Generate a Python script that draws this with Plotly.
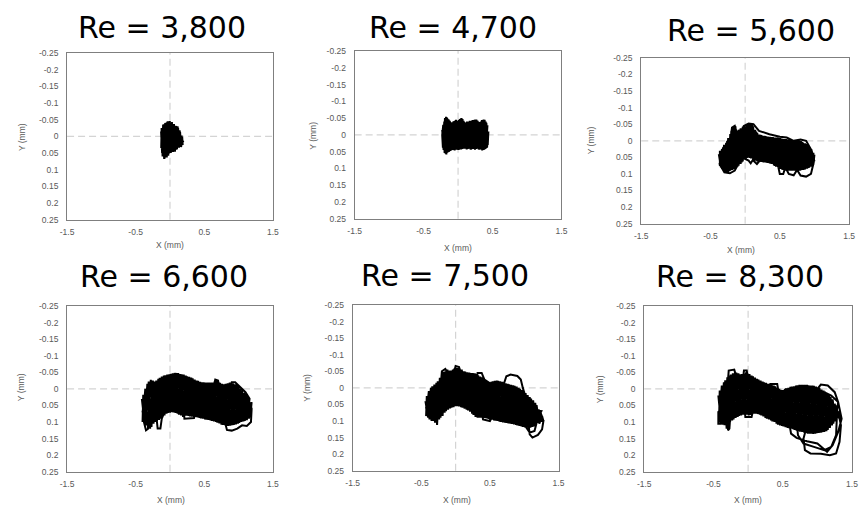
import plotly.graph_objects as go

W, H = 859, 512

# Panel labels (Reynolds number) and tick labels
TITLES = ["Re = 3,800", "Re = 4,700", "Re = 5,600", "Re = 6,600", "Re = 7,500", "Re = 8,300"]
X_TICKS = [-1.5, -0.5, 0.5, 1.5]
X_TICK_TEXT = ["-1.5", "-0.5", "0.5", "1.5"]
Y_TICKS = [-0.25, -0.2, -0.15, -0.1, -0.05, 0, 0.05, 0.1, 0.15, 0.2, 0.25]
Y_TICK_TEXT = ["-0.25", "-0.2", "-0.15", "-0.1", "-0.05", "0", "0.05", "0.1", "0.15", "0.2", "0.25"]

# Cylinder centre trajectories, X and Y displacement in mm
X_3800 = [-0.13, -0.115, -0.1, -0.085, -0.07, -0.055, -0.04, -0.025, -0.01, 0.005, 0.02, 0.035, 0.05, 0.065,
          0.08, 0.095, 0.11, 0.125, 0.14, 0.155, 0.17, 0.185,
          0.178, 0.162, 0.147, 0.132, 0.118, 0.102, 0.087, 0.072, 0.058, 0.043, 0.028, 0.012, -0.003, -0.018,
          -0.032, -0.047, -0.062, -0.078, -0.093, -0.108, -0.122,
          -0.128, -0.09, -0.05, 0.0, 0.06, 0.12, 0.19, 0.15, 0.08, 0.02, -0.06, -0.12]
Y_3800 = [-0.015, 0.05, -0.035, 0.068, -0.04, 0.06, -0.044, 0.058, -0.045, 0.048, -0.04, 0.046, -0.036, 0.045,
          -0.032, 0.04, -0.03, 0.034, -0.018, 0.03, -0.002, 0.026,
          0.002, 0.032, -0.014, 0.034, -0.026, 0.038, -0.031, 0.046, -0.037, 0.047, -0.043, 0.05, -0.046, 0.052,
          -0.045, 0.063, -0.041, 0.066, -0.036, 0.06, -0.025,
          0.035, 0.0, 0.03, -0.01, 0.02, 0.0, 0.015, 0.03, 0.0, 0.03, 0.01, 0.02]

X_4700 = [-0.23, -0.21, -0.19, -0.17, -0.15, -0.13, -0.11, -0.09, -0.07, -0.05, -0.03, -0.01, 0.01, 0.03, 0.05,
          0.07, 0.09, 0.11, 0.13, 0.15, 0.17, 0.19, 0.21, 0.23, 0.25, 0.27, 0.29, 0.31, 0.33, 0.35, 0.37, 0.39,
          0.41, 0.43, 0.44,
          0.42, 0.4, 0.38, 0.36, 0.34, 0.32, 0.3, 0.28, 0.26, 0.24, 0.22, 0.2, 0.18, 0.16, 0.14, 0.12, 0.1, 0.08,
          0.06, 0.04, 0.02, 0.0, -0.02, -0.04, -0.06, -0.08, -0.1, -0.12, -0.14, -0.16, -0.18, -0.2, -0.22, -0.23,
          -0.215, -0.195, -0.175, -0.155, -0.135, -0.115, -0.095, -0.075, -0.055, -0.035, -0.015, 0.005, 0.025,
          0.045, 0.065, 0.085, 0.105, 0.125, 0.145, 0.165, 0.185, 0.205, 0.225, 0.245, 0.265, 0.285, 0.305,
          0.325, 0.345, 0.365, 0.385, 0.405, 0.425,
          0.35, 0.2, 0.05, -0.1, -0.2, -0.1, 0.05, 0.2, 0.35, 0.42]
Y_4700 = [-0.015, 0.045, -0.05, 0.058, -0.048, 0.05, -0.038, 0.045, -0.04, 0.046, -0.045, 0.044, -0.044, 0.042,
          -0.05, 0.04, -0.038, 0.04, -0.04, 0.04, -0.042, 0.044, -0.044, 0.042, -0.046, 0.04, -0.04, 0.044,
          -0.04, 0.046, -0.046, 0.042, -0.036, 0.03, -0.01,
          0.038, -0.04, 0.044, -0.044, 0.043, -0.038, 0.043, -0.043, 0.042, -0.045, 0.041, -0.042, 0.043, -0.04,
          0.042, -0.037, 0.041, -0.042, 0.042, -0.049, 0.044, -0.042, 0.043, -0.043, 0.045, -0.037, 0.046,
          -0.042, 0.051, -0.052, 0.056, -0.04, 0.038, 0.0,
          -0.03, 0.054, -0.054, 0.053, -0.046, 0.048, -0.036, 0.045, -0.041, 0.044, -0.042, 0.045, -0.047,
          0.043, -0.047, 0.041, -0.036, 0.043, -0.039, 0.041, -0.041, 0.042, -0.043, 0.044, -0.046, 0.041,
          -0.037, 0.042, -0.044, 0.045, -0.045, 0.04, -0.025,
          -0.02, -0.015, -0.025, -0.02, 0.0, 0.02, 0.025, 0.02, 0.025, 0.01]

X_5600 = [-0.38, -0.35, -0.32, -0.29, -0.26, -0.23, -0.2, -0.17, -0.14, -0.11, -0.08, -0.05, -0.02, 0.01, 0.04,
          0.07, 0.1, 0.13, 0.16, 0.19, 0.22, 0.25, 0.28, 0.31, 0.34, 0.37, 0.4, 0.43, 0.46, 0.49, 0.52, 0.55,
          0.58, 0.61, 0.64, 0.67, 0.7, 0.73, 0.76, 0.79, 0.82, 0.85, 0.88, 0.91, 0.94, 0.97, 1.0,
          0.985, 0.955, 0.925, 0.895, 0.865, 0.835, 0.805, 0.775, 0.745, 0.715, 0.685, 0.655, 0.625, 0.595,
          0.565, 0.535, 0.505, 0.475, 0.445, 0.415, 0.385, 0.355, 0.325, 0.295, 0.265, 0.235, 0.205, 0.175,
          0.145, 0.115, 0.085, 0.055, 0.025, -0.005, -0.035, -0.065, -0.095, -0.125, -0.155, -0.185, -0.215,
          -0.245, -0.275, -0.305, -0.335, -0.365,
          -0.365, -0.335, -0.305, -0.275, -0.245, -0.215, -0.185, -0.155, -0.125, -0.095, -0.065, -0.035,
          -0.005, 0.025, 0.055, 0.085, 0.115, 0.145, 0.175, 0.205, 0.235, 0.265, 0.295, 0.325, 0.355, 0.385,
          0.415, 0.445, 0.475, 0.505, 0.535, 0.565, 0.595, 0.625, 0.655, 0.685, 0.715, 0.745, 0.775, 0.805,
          0.835, 0.865, 0.895, 0.925, 0.955, 0.985,
          0.99, 0.95, 0.88, 0.8, 0.75, 0.7, 0.63, 0.58, 0.55, 0.5, 0.47, 0.4, 0.25, 0.17, 0.11, 0.08, 0.05,
          -0.05, -0.15, -0.22, -0.3, -0.37, -0.3, -0.22, -0.19, -0.15, -0.1, -0.02, 0.05, 0.12, 0.2, 0.35, 0.5,
          0.6, 0.7, 0.8, 0.88, 0.96,
          1.0, 0.9, 0.8, 0.7, 0.6, 0.5, 0.4, 0.3, 0.2, 0.1, 0.0, -0.1, -0.2, -0.3, -0.37,
          -0.3, -0.2, -0.1, 0.0, 0.1, 0.2, 0.3, 0.4, 0.5, 0.6, 0.7, 0.8, 0.9, 0.98]
Y_5600 = [0.04, 0.08, 0.02, 0.092, 0.0, 0.092, -0.03, 0.086, -0.044, 0.078, -0.034, 0.065, -0.043, 0.055, -0.049,
          0.052, -0.048, 0.058, -0.028, 0.063, -0.018, 0.064, -0.015, 0.066, -0.012, 0.069, -0.011, 0.076,
          -0.01, 0.083, -0.007, 0.088, -0.005, 0.09, -0.004, 0.09, -0.003, 0.09, -0.001, 0.09, 0.003, 0.087,
          0.01, 0.082, 0.022, 0.075, 0.042,
          0.072, 0.025, 0.081, 0.012, 0.086, 0.005, 0.089, 0.0, 0.09, -0.002, 0.09, -0.004, 0.09, -0.005, 0.089,
          -0.006, 0.085, -0.009, 0.078, -0.01, 0.07, -0.012, 0.067, -0.014, 0.065, -0.017, 0.064, -0.024, 0.06,
          -0.044, 0.053, -0.05, 0.052, -0.044, 0.062, -0.038, 0.075, -0.03, 0.085, -0.04, 0.09, -0.008, 0.094,
          0.012, 0.085, 0.03,
          0.076, 0.025, 0.09, 0.006, 0.094, -0.02, 0.088, -0.042, 0.082, -0.033, 0.07, -0.042, 0.056, -0.047,
          0.051, -0.049, 0.056, -0.033, 0.062, -0.019, 0.064, -0.015, 0.065, -0.013, 0.068, -0.011, 0.074,
          -0.01, 0.08, -0.008, 0.087, -0.005, 0.09, -0.004, 0.09, -0.003, 0.09, -0.002, 0.09, 0.001, 0.088,
          0.008, 0.084, 0.018, 0.078, 0.036,
          0.065, 0.1, 0.108, 0.105, 0.088, 0.104, 0.1, 0.08, 0.1, 0.1, 0.07, 0.06, 0.05, 0.07, 0.058, 0.068,
          0.06, 0.05, 0.09, 0.098, 0.095, 0.07, 0.03, 0.01, -0.04, -0.045, -0.01, -0.045, -0.052, -0.05, -0.03,
          -0.02, -0.012, -0.01, 0.0, -0.004, 0.0, 0.03,
          0.062, 0.054, 0.052, 0.05, 0.05, 0.044, 0.037, 0.032, 0.028, 0.009, 0.012, 0.028, 0.036, 0.056, 0.062,
          0.044, 0.024, 0.016, 0.0, -0.003, 0.016, 0.02, 0.024, 0.032, 0.036, 0.038, 0.039, 0.041, 0.048]

X_6600 = [-0.41, -0.37, -0.33, -0.29, -0.25, -0.21, -0.17, -0.13, -0.09, -0.05, -0.01, 0.03, 0.07, 0.11, 0.15,
          0.19, 0.23, 0.27, 0.31, 0.35, 0.39, 0.43, 0.47, 0.51, 0.55, 0.59, 0.63, 0.67, 0.71, 0.75, 0.79, 0.83,
          0.87, 0.91, 0.95, 0.99, 1.03, 1.07, 1.11, 1.15, 1.19,
          1.17, 1.13, 1.09, 1.05, 1.01, 0.97, 0.93, 0.89, 0.85, 0.81, 0.77, 0.73, 0.69, 0.65, 0.61, 0.57, 0.53,
          0.49, 0.45, 0.41, 0.37, 0.33, 0.29, 0.25, 0.21, 0.17, 0.13, 0.09, 0.05, 0.01, -0.03, -0.07, -0.11,
          -0.15, -0.19, -0.23, -0.27, -0.31, -0.35, -0.39,
          -0.4, -0.36, -0.32, -0.28, -0.24, -0.2, -0.16, -0.12, -0.08, -0.04, 0.0, 0.04, 0.08, 0.12, 0.16, 0.2,
          0.24, 0.28, 0.32, 0.36, 0.4, 0.44, 0.48, 0.52, 0.56, 0.6, 0.64, 0.68, 0.72, 0.76, 0.8, 0.84, 0.88,
          0.92, 0.96, 1.0, 1.04, 1.08, 1.12, 1.16,
          1.1, 0.95, 0.9, 0.85, 0.72, 0.7, 0.66, 0.64, 0.6, 0.44, 0.8, 0.8, 0.83, 0.9, 0.98, 1.05, 1.12, 1.18,
          1.19, 1.14, 0.6, 0.38, 0.35, 0.21, 0.2, 0.0, -0.12, -0.14, -0.18, -0.2, -0.3, -0.32, -0.35, -0.38,
          -0.4, -0.3, -0.2, -0.1, 0.0, 0.1, 0.2, 0.3, 0.4, 0.5, 0.6, 0.7, 0.8, 0.9, 1.0, 1.1, 1.18,
          1.1, 1.0, 0.9, 0.8, 0.7, 0.6, 0.5, 0.4, 0.3, 0.2, 0.1, 0.0, -0.1, -0.2, -0.3, -0.4]
Y_6600 = [0.03, 0.105, -0.015, 0.12, -0.025, 0.1, -0.03, 0.09, -0.04, 0.075, -0.044, 0.07, -0.048, 0.075, -0.045,
          0.085, -0.04, 0.082, -0.034, 0.085, -0.025, 0.088, -0.02, 0.092, -0.019, 0.095, -0.019, 0.1, -0.02,
          0.108, -0.014, 0.112, -0.019, 0.11, -0.014, 0.105, 0.0, 0.098, 0.016, 0.09, 0.04,
          0.085, 0.02, 0.097, 0.005, 0.103, -0.012, 0.109, -0.018, 0.112, -0.015, 0.109, -0.018, 0.102, -0.022,
          0.097, -0.019, 0.093, -0.02, 0.089, -0.024, 0.085, -0.032, 0.083, -0.038, 0.082, -0.044, 0.078,
          -0.048, 0.071, -0.045, 0.073, -0.041, 0.085, -0.033, 0.097, -0.022, 0.115, -0.022, 0.11, 0.018,
          0.1, 0.0, 0.118, -0.027, 0.105, -0.025, 0.094, -0.037, 0.08, -0.043, 0.072, -0.047, 0.073, -0.048,
          0.08, -0.043, 0.081, -0.036, 0.084, -0.028, 0.086, -0.021, 0.09, -0.019, 0.094, -0.019, 0.098,
          -0.024, 0.104, -0.015, 0.11, -0.017, 0.111, -0.016, 0.107, -0.008, 0.1, 0.012, 0.094, 0.03,
          0.01, -0.02, -0.02, 0.02, -0.005, -0.025, -0.028, -0.01, 0.02, 0.05, 0.05, 0.1, 0.124, 0.126, 0.12,
          0.11, 0.112, 0.1, 0.06, 0.03, 0.05, 0.07, 0.088, 0.09, 0.06, 0.03, 0.09, 0.12, 0.12, 0.08, 0.05,
          0.12, 0.125, 0.1,
          0.068, 0.056, 0.041, 0.026, 0.02, 0.019, 0.028, 0.031, 0.037, 0.042, 0.044, 0.048, 0.054, 0.052,
          0.054, 0.061, 0.064,
          0.049, 0.042, 0.04, 0.042, 0.036, 0.032, 0.03, 0.025, 0.019, 0.016, 0.007, 0.008, 0.014, 0.029,
          0.044, 0.056]

X_7500 = [-0.44, -0.4, -0.36, -0.32, -0.28, -0.24, -0.2, -0.16, -0.12, -0.08, -0.04, 0.0, 0.04, 0.08, 0.12,
          0.16, 0.2, 0.24, 0.28, 0.32, 0.36, 0.4, 0.44, 0.48, 0.52, 0.56, 0.6, 0.64, 0.68, 0.72, 0.76, 0.8,
          0.84, 0.88, 0.92, 0.96, 1.0, 1.04, 1.08, 1.12, 1.16, 1.2, 1.24, 1.28,
          1.26, 1.22, 1.18, 1.14, 1.1, 1.06, 1.02, 0.98, 0.94, 0.9, 0.86, 0.82, 0.78, 0.74, 0.7, 0.66, 0.62,
          0.58, 0.54, 0.5, 0.46, 0.42, 0.38, 0.34, 0.3, 0.26, 0.22, 0.18, 0.14, 0.1, 0.06, 0.02, -0.02, -0.06,
          -0.1, -0.14, -0.18, -0.22, -0.26, -0.3, -0.34, -0.38, -0.42,
          -0.43, -0.39, -0.35, -0.31, -0.27, -0.23, -0.19, -0.15, -0.11, -0.07, -0.03, 0.01, 0.05, 0.09, 0.13,
          0.17, 0.21, 0.25, 0.29, 0.33, 0.37, 0.41, 0.45, 0.49, 0.53, 0.57, 0.61, 0.65, 0.69, 0.73, 0.77, 0.81,
          0.85, 0.89, 0.93, 0.97, 1.01, 1.05, 1.09, 1.13, 1.17, 1.21, 1.25,
          1.28, 1.26, 1.2, 1.12, 1.08, 1.05, 1.05, 0.98, 0.95, 0.9, 0.8, 0.74, 0.7, 0.6, 0.42, 0.38, 0.32,
          0.3, 0.4, 0.5, 0.6, 0.9, 1.02, 1.08, 1.15, 1.2, 1.25, 0.3, 0.0, -0.03, 0.0, 0.05, 0.08, -0.1,
          -0.15, -0.2, -0.22, -0.26, -0.27, -0.28, -0.44,
          -0.3, -0.2, -0.1, 0.0, 0.1, 0.2, 0.3, 0.4, 0.5, 0.6, 0.7, 0.8, 0.9, 1.0, 1.1, 1.2, 1.27,
          1.2, 1.1, 1.0, 0.9, 0.8, 0.7, 0.6, 0.5, 0.4, 0.3, 0.2, 0.1, 0.0, -0.1, -0.2, -0.3, -0.43]
Y_7500 = [0.04, 0.09, 0.0, 0.1, -0.015, 0.095, -0.045, 0.075, -0.055, 0.062, -0.055, 0.055, -0.062, 0.058, -0.05,
          0.066, -0.046, 0.078, -0.044, 0.09, -0.034, 0.09, -0.022, 0.094, -0.018, 0.098, -0.022, 0.102,
          -0.018, 0.105, -0.012, 0.108, -0.008, 0.112, 0.0, 0.116, 0.012, 0.12, 0.028, 0.118, 0.045, 0.105,
          0.075, 0.1,
          0.085, 0.108, 0.052, 0.116, 0.032, 0.12, 0.016, 0.118, 0.003, 0.113, -0.006, 0.109, -0.011, 0.106,
          -0.016, 0.103, -0.021, 0.099, -0.02, 0.095, -0.019, 0.091, -0.032, 0.09, -0.042, 0.082, -0.045,
          0.068, -0.049, 0.06, -0.058, 0.055, -0.058, 0.06, -0.052, 0.07, -0.048, 0.09, -0.02, 0.105, -0.005,
          0.095, 0.025,
          0.085, 0.01, 0.1, -0.01, 0.11, -0.03, 0.085, -0.05, 0.066, -0.052, 0.058, -0.06, 0.056, -0.055, 0.063,
          -0.047, 0.072, -0.045, 0.088, -0.038, 0.09, -0.028, 0.092, -0.017, 0.096, -0.021, 0.1, -0.02, 0.104,
          -0.014, 0.107, -0.009, 0.11, -0.004, 0.115, 0.007, 0.119, 0.022, 0.12, 0.038, 0.11, 0.065, 0.1,
          0.1, 0.125, 0.142, 0.15, 0.14, 0.09, 0.05, 0.0, -0.025, -0.036, -0.04, -0.035, -0.01, 0.0, -0.025,
          -0.045, -0.045, -0.02, 0.095, 0.1, 0.06, 0.08, 0.115, 0.135, 0.13, 0.09, 0.07, 0.05, 0.02, -0.04,
          -0.066, -0.063, -0.04, -0.04, -0.057, -0.05, 0.0, 0.06, 0.112, 0.07, 0.06,
          0.051, 0.026, 0.011, 0.003, 0.012, 0.018, 0.03, 0.036, 0.044, 0.045, 0.051, 0.055, 0.062, 0.072,
          0.081, 0.088, 0.093,
          0.076, 0.069, 0.06, 0.05, 0.043, 0.039, 0.033, 0.032, 0.024, 0.018, 0.006, 0.0, -0.009, -0.001,
          0.014, 0.039, 0.064]

X_8300 = [-0.43, -0.39, -0.35, -0.31, -0.27, -0.23, -0.19, -0.15, -0.11, -0.07, -0.03, 0.01, 0.05, 0.09, 0.13,
          0.17, 0.21, 0.25, 0.29, 0.33, 0.37, 0.41, 0.45, 0.49, 0.53, 0.57, 0.61, 0.65, 0.69, 0.73, 0.77, 0.81,
          0.85, 0.89, 0.93, 0.97, 1.01, 1.05, 1.09, 1.13, 1.17, 1.21, 1.25, 1.29,
          1.27, 1.23, 1.19, 1.15, 1.11, 1.07, 1.03, 0.99, 0.95, 0.91, 0.87, 0.83, 0.79, 0.75, 0.71, 0.67, 0.63,
          0.59, 0.55, 0.51, 0.47, 0.43, 0.39, 0.35, 0.31, 0.27, 0.23, 0.19, 0.15, 0.11, 0.07, 0.03, -0.01,
          -0.05, -0.09, -0.13, -0.17, -0.21, -0.25, -0.29, -0.33, -0.37, -0.41,
          -0.42, -0.38, -0.34, -0.3, -0.26, -0.22, -0.18, -0.14, -0.1, -0.06, -0.02, 0.02, 0.06, 0.1, 0.14, 0.18,
          0.22, 0.26, 0.3, 0.34, 0.38, 0.42, 0.46, 0.5, 0.54, 0.58, 0.62, 0.66, 0.7, 0.74, 0.78, 0.82, 0.86,
          0.9, 0.94, 0.98, 1.02, 1.06, 1.1, 1.14, 1.18, 1.22, 1.26,
          1.3, 1.25, 1.15, 1.05, 1.0, 1.2, 1.3, 1.35, 1.3, 1.22, 1.14, 1.0, 0.85, 0.7, 0.62, 0.6, 1.22, 1.3,
          1.34, 1.32, 1.27, 1.18, 1.05, 0.9, 0.82, 0.8, 0.85, 1.2, 1.28, 1.27, 1.2, 1.1, 0.95, 0.8, 0.72, 0.7,
          0.6, 0.44, 0.42, 0.32, 0.3, 0.07, 0.05, -0.04, -0.05, -0.08, -0.06, -0.02, 0.0, -0.16, -0.2,
          -0.28, -0.3, -0.26, -0.27, -0.29, -0.3, -0.39, -0.4, -0.43, -0.43,
          -0.3, -0.2, -0.1, 0.0, 0.1, 0.2, 0.3, 0.4, 0.5, 0.6, 0.7, 0.8, 0.9, 1.0, 1.1, 1.2, 1.28,
          1.2, 1.1, 1.0, 0.9, 0.8, 0.7, 0.6, 0.5, 0.4, 0.3, 0.2, 0.1, 0.0, -0.1, -0.2, -0.3, -0.42]
Y_8300 = [0.02, 0.105, -0.02, 0.12, -0.04, 0.095, -0.05, 0.085, -0.044, 0.078, -0.05, 0.08, -0.04, 0.075, -0.03,
          0.078, -0.022, 0.088, -0.015, 0.095, -0.01, 0.105, 0.0, 0.112, 0.0, 0.118, -0.006, 0.122, -0.01,
          0.128, -0.012, 0.132, -0.012, 0.135, -0.01, 0.135, -0.005, 0.132, 0.005, 0.128, 0.02, 0.11, 0.045,
          0.09,
          0.05, 0.105, 0.025, 0.124, 0.008, 0.131, -0.003, 0.134, -0.009, 0.135, -0.011, 0.133, -0.012, 0.129,
          -0.011, 0.124, -0.007, 0.119, -0.002, 0.113, 0.003, 0.108, -0.008, 0.098, -0.014, 0.09, -0.02, 0.08,
          -0.028, 0.075, -0.038, 0.079, -0.048, 0.078, -0.045, 0.082, -0.049, 0.092, -0.043, 0.112, -0.026,
          0.108, 0.005,
          0.1, -0.01, 0.11, -0.035, 0.1, -0.047, 0.088, -0.047, 0.08, -0.046, 0.078, -0.045, 0.077, -0.034,
          0.076, -0.025, 0.083, -0.018, 0.092, -0.012, 0.1, -0.004, 0.11, 0.004, 0.116, -0.003, 0.12, -0.008,
          0.126, -0.012, 0.13, -0.012, 0.135, -0.01, 0.136, -0.007, 0.133, 0.002, 0.13, 0.012, 0.118, 0.032,
          0.098,
          0.04, 0.01, -0.01, -0.013, 0.0, 0.02, 0.04, 0.09, 0.13, 0.17, 0.19, 0.165, 0.158, 0.148, 0.135, 0.11,
          0.05, 0.07, 0.11, 0.16, 0.195, 0.2, 0.196, 0.195, 0.185, 0.15, 0.11, 0.06, 0.09, 0.14, 0.175, 0.185,
          0.175, 0.165, 0.14, 0.1, 0.05, 0.01, -0.015, -0.015, 0.0, 0.065, 0.085, 0.085, 0.06, -0.02, -0.055,
          -0.055, -0.03, -0.03, -0.058, -0.055, 0.0, 0.09, 0.12, 0.125, 0.08, 0.08, 0.105, 0.105, 0.07,
          0.046, 0.028, 0.024, 0.022, 0.026, 0.036, 0.046, 0.056, 0.064, 0.063, 0.064, 0.066, 0.068, 0.07,
          0.074, 0.071, 0.08,
          0.059, 0.062, 0.058, 0.056, 0.054, 0.052, 0.051, 0.052, 0.044, 0.034, 0.024, 0.014, 0.01, 0.012,
          0.016, 0.034, 0.055]

SERIES = [(X_3800, Y_3800), (X_4700, Y_4700), (X_5600, Y_5600),
          (X_6600, Y_6600), (X_7500, Y_7500), (X_8300, Y_8300)]

# Pixel frames of each plot box (left, top, right, bottom) and text anchors
BOXES = [(61, 49, 270, 219), (353, 47, 563, 218), (644, 54, 855, 223),
         (61, 307, 270, 476), (351, 306, 560, 475), (647, 307, 858, 476)]
TITLE_POS = [(157.5, 23), (452.5, 23), (755, 26.5), (159, 276.5), (444.5, 276), (744.5, 276.5)]
YLABEL_POS = [(16, 135), (311, 133), (593, 138), (15, 390), (305, 390), (602, 392)]
XLABEL_POS = [(165, 245), (458, 248), (745, 250), (167, 505), (457, 505), (752, 505)]


def px(x):
    return x / W


def py(y):
    return 1 - y / H


fig = go.Figure()
layout = dict(width=W, height=H, margin=dict(l=0, r=0, t=0, b=0),
              paper_bgcolor="white", plot_bgcolor="white", showlegend=False)
shapes, annotations = [], []
tick_font = dict(family="Liberation Sans", size=8.5, color="#595959")

for i, ((xs, ys), box) in enumerate(zip(SERIES, BOXES)):
    n = "" if i == 0 else str(i + 1)
    l, t, r, b = box
    layout["xaxis" + n] = dict(domain=[px(l), px(r)], range=[-1.5, 1.5], anchor="y" + n,
                               tickvals=X_TICKS, ticktext=X_TICK_TEXT, showgrid=False, zeroline=False,
                               showline=True, mirror=True, linecolor="#7f7f7f", linewidth=1,
                               ticks="", tickfont=tick_font, ticklabelstandoff=4)
    layout["yaxis" + n] = dict(domain=[py(b), py(t)], range=[0.25, -0.25], anchor="x" + n,
                               tickvals=Y_TICKS, ticktext=Y_TICK_TEXT, showgrid=False, zeroline=False,
                               showline=True, mirror=True, linecolor="#7f7f7f", linewidth=1,
                               ticks="", tickfont=tick_font, ticklabelstandoff=6)
    dash = dict(color="#d4d4d4", width=1.2, dash="7px,4px")
    shapes.append(dict(type="line", xref="x" + n, yref="y" + n + " domain", x0=0, x1=0, y0=0, y1=1,
                       line=dash, layer="below"))
    shapes.append(dict(type="line", xref="x" + n + " domain", yref="y" + n, x0=0, x1=1, y0=0, y1=0,
                       line=dash, layer="below"))
    fig.add_trace(go.Scatter(x=xs, y=ys, mode="lines", xaxis="x" + n, yaxis="y" + n,
                             line=dict(color="black", width=2.0),
                             hoverinfo="skip"))
    tx, ty = TITLE_POS[i]
    annotations.append(dict(text=TITLES[i], x=px(tx), y=py(ty), xref="paper", yref="paper",
                            showarrow=False, xanchor="center", yanchor="middle",
                            font=dict(family="DejaVu Sans", size=30, color="black")))
    yx, yy = YLABEL_POS[i]
    annotations.append(dict(text="Y (mm)", x=px(yx), y=py(yy), xref="paper", yref="paper",
                            showarrow=False, textangle=-90, xanchor="center", yanchor="middle",
                            font=dict(family="Liberation Sans", size=8.5, color="#595959")))
    xx, xy = XLABEL_POS[i]
    annotations.append(dict(text="X (mm)", x=px(xx), y=py(xy), xref="paper", yref="paper",
                            showarrow=False, xanchor="center", yanchor="middle",
                            font=dict(family="Liberation Sans", size=8.5, color="#595959")))

layout["shapes"] = shapes
layout["annotations"] = annotations
fig.update_layout(**layout)
fig.write_html("out.html")
